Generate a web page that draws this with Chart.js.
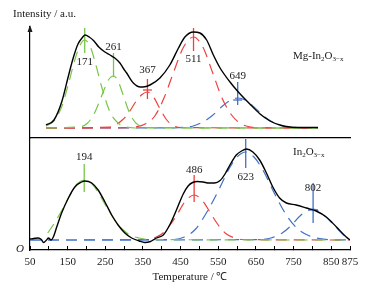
<!DOCTYPE html>
<html>
<head>
<meta charset="utf-8">
<script src="https://cdn.jsdelivr.net/npm/chart.js@4.4.1/dist/chart.umd.min.js"></script>
<style>
  html, body { margin: 0; padding: 0; background: #fff; }
  #wrap { position: relative; width: 392px; height: 297px; overflow: hidden; }
  #topChart { position: absolute; left: 0; top: 0; }
  #botChart { position: absolute; left: 0; top: 138px; }
</style>
</head>
<body>
<div id="wrap">
  <canvas id="topChart" width="392" height="140"></canvas>
  <canvas id="botChart" width="392" height="159"></canvas>
</div>
<script>
const FONT = "'Liberation Serif', 'Times New Roman', serif";
const GREEN = 'rgb(120, 198, 72)';
const RED = 'rgb(236, 66, 62)';
const BLUE = 'rgb(66, 112, 198)';

// bottom axis ticks (the last label sits at the axis end)
const xTickValues = [50, 150, 250, 350, 450, 550, 650, 750, 850, 900];
const xTickLabels = ['50', '150', '250', '350', '450', '550', '650', '750', '850', '875'];

// ---- Mg-In2O3-x (top panel) ----
const topT = [50, 75, 100, 120, 135, 150, 165, 172, 185, 200, 215, 234, 250, 265, 281, 291, 302, 323, 345, 353, 375, 406, 437, 464, 484, 511, 531, 552, 573, 594, 625, 651, 687, 719, 750, 781, 812, 850, 900];
const topTotal = [3, 8, 27, 52, 70, 84, 91, 93, 91, 87, 81, 76, 73, 70, 65, 60, 55, 45, 41, 41, 43, 50, 63, 80, 91, 96, 95, 88, 73, 60, 46, 36, 24, 14, 7, 3, 1, 0.5, 0.5];

const topG1T = [50, 75, 100, 120, 140, 155, 171, 190, 205, 225, 250, 275, 300, 330, 900];
const topG1 = [2, 7, 22, 44, 68, 82, 88, 80, 64, 40, 16, 5, 1, 0, 0];
const topG2T = [50, 160, 180, 200, 215, 230, 245, 261, 275, 290, 305, 320, 340, 360, 900];
const topG2 = [0, 1.5, 5, 14, 25, 37, 48, 52, 47, 34, 20, 9.5, 2.5, 0.5, 0];
const topR1T = [50, 250, 270, 290, 310, 330, 350, 367, 385, 405, 425, 445, 470, 900];
const topR1 = [0, 1, 3.5, 8.5, 16, 26, 33.5, 36, 31.5, 20, 9, 3, 0.5, 0];
const topR2T = [50, 300, 330, 360, 390, 420, 450, 480, 511, 540, 570, 600, 630, 660, 690, 720, 900];
const topR2 = [0, 0.3, 1, 4, 12, 31, 57, 81, 91, 81, 56, 30, 13, 4, 1, 0.2, 0];
const topB1T = [50, 450, 480, 510, 540, 570, 600, 625, 649, 675, 700, 730, 760, 790, 820, 900];
const topB1 = [0, 0.2, 0.6, 2, 6, 12.5, 21.5, 27.5, 30, 27.5, 21, 12, 5.5, 2, 0.5, 0];

const topPeaks = [171, 261, 367, 511, 649];
const topMarkLo = [75, 51, 29, 77, 23];
const topMarkHi = [100, 75, 49, 100, 46];
const topCross = [null, null, 38, null, 28];
const topLabelY = [66, 81, 58, 69, 52];

// ---- In2O3-x (bottom panel) ----
const botT = [50, 60, 72, 80, 86, 94, 99, 106, 112, 121, 134, 152, 169, 187, 196, 214, 231, 249, 267, 284, 302, 320, 340, 355, 370, 386, 404, 421, 439, 457, 470, 482, 495, 510, 525, 540, 555, 568, 581, 598, 612, 625, 642, 660, 678, 695, 713, 731, 757, 784, 810, 837, 864, 890, 900];
const botTotal = [1, 1.5, 2, 0.5, -2.5, 0, 2, 0, 3, 13, 27, 42, 53, 58, 59, 57, 50, 38, 25, 15, 7, 2, -1, -2.5, -1.5, 2, 5, 15, 30, 46, 54, 57.5, 58.5, 58, 57, 57, 59.5, 66, 75, 85, 89, 91, 88, 80, 67, 53, 42, 37, 35, 32, 29, 23, 13, 3, 0];

const botG1T = [97, 115, 135, 155, 175, 194, 215, 235, 255, 275, 295, 315, 340, 365, 900];
const botG1 = [7, 17, 30, 44, 56, 60, 56, 45, 32, 20, 11, 5, 2, 0.5, 0];
const botR1T = [380, 400, 420, 440, 460, 486, 510, 530, 550, 570, 590, 615, 900];
const botR1 = [2, 6, 14, 25, 37.5, 45, 38.5, 26.5, 15, 6.5, 2.5, 0.5, 0];
const botB1T = [50, 430, 460, 490, 520, 550, 580, 600, 623, 645, 670, 700, 730, 760, 790, 820, 850, 900];
const botB1 = [0, 0.5, 3, 11, 28, 49, 72, 83, 88, 83, 69, 46, 25.5, 11.5, 4.5, 1.3, 0.3, 0];
const botB2T = [50, 660, 690, 720, 745, 770, 802, 830, 855, 880, 900];
const botB2 = [0, 0.4, 2, 7, 15, 25, 31, 25, 16, 6, 0];

const botPeaks = [194, 486, 623, 802];
const botMarkLo = [48, 38, 72, 17];
const botMarkHi = [76, 65, 101, 57];
const botCross = [null, null, null, 30];
const botLabelY = [83, 70, 63, 52];

function pts(xs, ys) {
    return xs.map(function (x, i) { return {x: x, y: ys[i]}; });
}

function curve(xs, ys, color, dashed) {
    return {
        data: pts(xs, ys),
        borderColor: color,
        borderWidth: dashed ? 1.2 : 1.4,
        borderDash: dashed ? [11, 7] : [],
        pointRadius: 0,
        cubicInterpolationMode: 'monotone',
        fill: false
    };
}

// short vertical lines (and crosses) marking each fitted peak
function markers(peaks, lo, hi, cross, colors, half) {
    let sets = [];
    for (let i = 0; i < peaks.length; i++) {
        sets.push({data: [{x: peaks[i], y: lo[i]}, {x: peaks[i], y: hi[i]}], borderColor: colors[i], borderWidth: 1.3, pointRadius: 0});
        if (cross[i] !== null) {
            sets.push({data: [{x: peaks[i] - half, y: cross[i]}, {x: peaks[i] + half, y: cross[i]}], borderColor: colors[i], borderWidth: 1.3, pointRadius: 0});
        }
    }
    return sets;
}

function drawFormula(ctx, parts, x, y) {
    ctx.textAlign = 'left';
    ctx.textBaseline = 'middle';
    parts.forEach(function (p) {
        ctx.font = (p[1] ? '7px ' : '11px ') + FONT;
        ctx.fillText(p[0], x, y + (p[1] ? 3.5 : 0));
        x += ctx.measureText(p[0]).width;
    });
}

const textLayer = {
    id: 'textLayer',
    afterDraw(chart, args, opts) {
        const ctx = chart.ctx, xs = chart.scales.x, ys = chart.scales.y;
        ctx.save();
        ctx.fillStyle = '#1a1a1a';
        ctx.font = '11px ' + FONT;
        ctx.textAlign = 'center';
        ctx.textBaseline = 'middle';
        opts.peaks.forEach(function (p, i) {
            ctx.fillText(String(p), xs.getPixelForValue(p), ys.getPixelForValue(opts.labelY[i]));
        });
        drawFormula(ctx, opts.formula, opts.formulaPos[0], opts.formulaPos[1]);
        if (opts.arrow) {
            const ax = chart.chartArea.left;
            ctx.font = '11px ' + FONT;
            ctx.textAlign = 'left';
            ctx.fillText('Intensity / a.u.', 13, 14);
            ctx.beginPath();
            ctx.moveTo(ax, chart.chartArea.top - 2);
            ctx.lineTo(ax - 2.5, chart.chartArea.top + 5);
            ctx.lineTo(ax + 2.5, chart.chartArea.top + 5);
            ctx.closePath();
            ctx.fill();
        }
        if (opts.origin) {
            ctx.font = 'italic 11px ' + FONT;
            ctx.textAlign = 'center';
            ctx.fillText('O', 20, chart.chartArea.bottom - 1);
        }
        ctx.restore();
    }
};

const topColors = [GREEN, GREEN, RED, RED, BLUE];
const botColors = [GREEN, RED, BLUE, BLUE];

new Chart(document.getElementById('topChart'), {
    type: 'line',
    data: {
        datasets: [curve(topT, topTotal, '#000', false)]
            .concat(markers(topPeaks, topMarkLo, topMarkHi, topCross, topColors, 14))
            .concat([
                curve(topG1T, topG1, GREEN, true),
                curve(topG2T, topG2, GREEN, true),
                curve(topR1T, topR1, RED, true),
                curve(topR2T, topR2, RED, true),
                curve(topB1T, topB1, BLUE, true)
            ])
    },
    options: {
        responsive: false,
        animation: false,
        layout: {padding: {left: 30, right: 42, top: 27, bottom: 2}},
        plugins: {
            legend: {display: false},
            tooltip: {enabled: false},
            textLayer: {
                peaks: topPeaks, labelY: topLabelY, arrow: true,
                formula: [['Mg-In', false], ['2', true], ['O', false], ['3\u2212x', true]],
                formulaPos: [293, 56]
            }
        },
        scales: {
            x: {
                type: 'linear', min: 0, max: 1000,
                ticks: {display: false},
                grid: {display: false},
                border: {color: '#000', width: 1.2},
                afterFit: function (s) { s.height = 0; }
            },
            y: {
                min: -10, max: 101,
                ticks: {display: false},
                grid: {display: false},
                border: {color: '#000', width: 1.2},
                afterFit: function (s) { s.width = 0; }
            }
        }
    },
    plugins: [textLayer]
});

new Chart(document.getElementById('botChart'), {
    type: 'line',
    data: {
        datasets: [curve(botT, botTotal, '#000', false)]
            .concat(markers(botPeaks, botMarkLo, botMarkHi, botCross, botColors, 13))
            .concat([
                curve(botG1T, botG1, GREEN, true),
                curve(botR1T, botR1, RED, true),
                curve(botB1T, botB1, BLUE, true),
                curve(botB2T, botB2, BLUE, true)
            ])
    },
    options: {
        responsive: false,
        animation: false,
        layout: {padding: {left: 30, right: 42, top: 0, bottom: 0}},
        plugins: {
            legend: {display: false},
            tooltip: {enabled: false},
            textLayer: {
                peaks: botPeaks, labelY: botLabelY, origin: true,
                formula: [['In', false], ['2', true], ['O', false], ['3\u2212x', true]],
                formulaPos: [293, 14]
            }
        },
        scales: {
            x: {
                type: 'linear', min: 50, max: 900,
                ticks: {
                    stepSize: 50, autoSkip: false, maxRotation: 0, padding: 10,
                    color: '#1a1a1a',
                    font: {family: FONT, size: 11},
                    callback: function (v) {
                        let i = xTickValues.indexOf(v);
                        return i >= 0 ? xTickLabels[i] : '';
                    }
                },
                grid: {display: true, drawOnChartArea: false, drawTicks: true, tickLength: -4, color: '#000', lineWidth: 1},
                border: {color: '#000', width: 1.2},
                title: {display: true, text: 'Temperature / \u2103', color: '#1a1a1a', font: {family: FONT, size: 11}, padding: {top: 0, bottom: 13}},
                afterFit: function (s) { s.height = 47; }
            },
            y: {
                min: -10, max: 102,
                ticks: {display: false},
                grid: {display: false},
                border: {color: '#000', width: 1.2},
                afterFit: function (s) { s.width = 0; }
            }
        }
    },
    plugins: [textLayer]
});
</script>
</body>
</html>
